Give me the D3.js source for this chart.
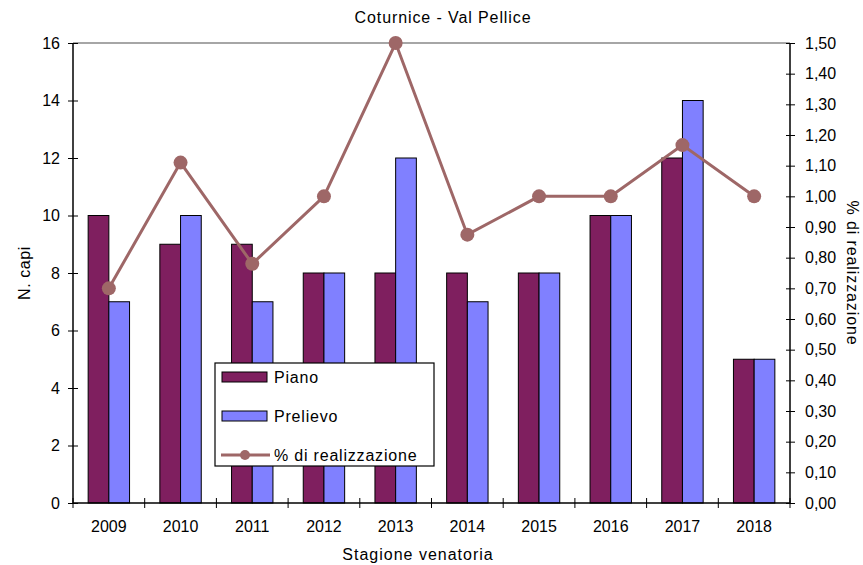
<!DOCTYPE html>
<html>
<head>
<meta charset="utf-8">
<script src="https://cdn.jsdelivr.net/npm/d3@7"></script>
<style>
  body { margin: 0; background: #fff; }
  svg { font-family: "Liberation Sans", Arial, sans-serif; }
</style>
</head>
<body>
<svg id="chart" width="863" height="565"></svg>
<script>
// data
var years = ['2009', '2010', '2011', '2012', '2013', '2014', '2015', '2016', '2017', '2018']
var piano = [10, 9, 9, 8, 8, 8, 8, 10, 12, 5]
var prelievo = [7, 10, 7, 8, 12, 7, 8, 10, 14, 5]
var realizzazione = [0.70, 1.11, 0.78, 1.00, 1.50, 0.875, 1.00, 1.00, 1.167, 1.00]
var leftTicks = [0, 2, 4, 6, 8, 10, 12, 14, 16]
var rightTicks = [0, 0.1, 0.2, 0.3, 0.4, 0.5, 0.6, 0.7, 0.8, 0.9, 1.0, 1.1, 1.2, 1.3, 1.4, 1.5]

var colPiano = '#7f1f5f'
var colPrelievo = '#8080ff'
var colLine = '#9e6767'

// plot area (avoid window.top clash)
var pLeft = 73, pRight = 790, pTop = 43, pBottom = 503

var svg = d3.select('#chart')

var x = d3.scaleBand().domain(years).range([pLeft, pRight])
var xi = d3.scaleBand().domain(['piano', 'prelievo']).range([0, 41.4])
var y = d3.scaleLinear().domain([0, 16]).range([pBottom, pTop])
var y2 = d3.scaleLinear().domain([0, 1.5]).range([pBottom, pTop])

// top border of plot area
svg.append('line')
  .attr('x1', pLeft).attr('x2', pRight)
  .attr('y1', pTop).attr('y2', pTop)
  .attr('stroke', '#888').attr('stroke-width', 1.5)

// bars
var groups = svg.selectAll('g.year')
  .data(years)
  .enter().append('g')
  .attr('class', 'year')
  .attr('transform', d => 'translate(' + (x(d) + x.bandwidth() / 2 - 20.7) + ',0)')

groups.append('rect')
  .attr('x', xi('piano'))
  .attr('width', xi.bandwidth())
  .attr('y', (d, i) => y(piano[i]))
  .attr('height', (d, i) => pBottom - y(piano[i]))
  .attr('fill', colPiano)
  .attr('stroke', '#000').attr('stroke-width', 1)

groups.append('rect')
  .attr('x', xi('prelievo'))
  .attr('width', xi.bandwidth())
  .attr('y', (d, i) => y(prelievo[i]))
  .attr('height', (d, i) => pBottom - y(prelievo[i]))
  .attr('fill', colPrelievo)
  .attr('stroke', '#000').attr('stroke-width', 1)

// line
var line = d3.line()
  .x((d, i) => x(years[i]) + x.bandwidth() / 2)
  .y(d => y2(d))

svg.append('path')
  .datum(realizzazione)
  .attr('d', line)
  .attr('fill', 'none')
  .attr('stroke', colLine)
  .attr('stroke-width', 3)

svg.selectAll('circle.pt')
  .data(realizzazione)
  .enter().append('circle')
  .attr('class', 'pt')
  .attr('cx', (d, i) => x(years[i]) + x.bandwidth() / 2)
  .attr('cy', d => y2(d))
  .attr('r', 7)
  .attr('fill', colLine)

// axes
var fmt2 = d => d.toFixed(2).replace('.', ',')

var gl = svg.append('g')
  .attr('transform', 'translate(' + pLeft + ',0)')
  .call(d3.axisLeft(y).tickValues(leftTicks).tickSize(5).tickPadding(8))
gl.selectAll('.tick line').attr('x2', 5).attr('x1', -5)

var gr = svg.append('g')
  .attr('transform', 'translate(' + pRight + ',0)')
  .call(d3.axisRight(y2).tickValues(rightTicks).tickFormat(fmt2).tickSize(5).tickPadding(10))
gr.selectAll('.tick line').attr('x1', -4).attr('x2', 5)

var xTicks = years.map(d => x(d)).concat([pRight])
var gb = svg.append('g')
  .attr('transform', 'translate(0,' + pBottom + ')')
gb.append('line')
  .attr('x1', pLeft).attr('x2', pRight)
  .attr('stroke', '#000').attr('stroke-width', 1.5)
gb.selectAll('line.tk')
  .data(xTicks)
  .enter().append('line')
  .attr('class', 'tk')
  .attr('x1', d => d).attr('x2', d => d)
  .attr('y1', -5).attr('y2', 5)
  .attr('stroke', '#000')
gb.selectAll('text')
  .data(years)
  .enter().append('text')
  .attr('x', d => x(d) + x.bandwidth() / 2)
  .attr('y', 29)
  .attr('text-anchor', 'middle')
  .attr('font-size', 16)
  .text(d => d)

;[gl, gr].forEach(g => {
  g.select('.domain').attr('stroke', '#000').attr('stroke-width', 1.5)
  g.selectAll('.tick text').attr('font-size', 16).attr('fill', '#000')
  g.selectAll('.tick line').attr('stroke', '#000')
})
gl.select('.domain').attr('d', 'M0,' + pTop + 'V' + pBottom)
gr.select('.domain').attr('d', 'M0,' + pTop + 'V' + pBottom)

// titles
svg.append('text')
  .attr('x', 443).attr('y', 23)
  .attr('text-anchor', 'middle')
  .attr('font-size', 16)
  .attr('letter-spacing', 0.9)
  .text('Coturnice - Val Pellice')

svg.append('text')
  .attr('transform', 'translate(30,' + (pTop + pBottom) / 2 + ') rotate(-90)')
  .attr('text-anchor', 'middle')
  .attr('font-size', 16)
  .attr('letter-spacing', 0.6)
  .text('N. capi')

svg.append('text')
  .attr('transform', 'translate(847,' + (pTop + pBottom) / 2 + ') rotate(90)')
  .attr('text-anchor', 'middle')
  .attr('font-size', 16)
  .attr('letter-spacing', 0.9)
  .text('% di realizzazione')

svg.append('text')
  .attr('x', 418).attr('y', 560)
  .attr('text-anchor', 'middle')
  .attr('font-size', 16)
  .attr('letter-spacing', 1)
  .text('Stagione venatoria')

// legend
var legend = svg.append('g').attr('transform', 'translate(215,363)')
legend.append('rect')
  .attr('width', 219).attr('height', 103)
  .attr('fill', '#fff').attr('stroke', '#000').attr('stroke-width', 1.2)

var legItems = [
  { name: 'Piano', type: 'bar', color: colPiano },
  { name: 'Prelievo', type: 'bar', color: colPrelievo },
  { name: '% di realizzazione', type: 'line', color: colLine }
]
legItems.forEach((d, i) => {
  var cy = 14 + i * 39
  if (d.type === 'bar') {
    legend.append('rect')
      .attr('x', 7).attr('y', cy - 5)
      .attr('width', 45).attr('height', 10)
      .attr('fill', d.color).attr('stroke', '#000')
  } else {
    legend.append('line')
      .attr('x1', 6).attr('x2', 55).attr('y1', cy).attr('y2', cy)
      .attr('stroke', d.color).attr('stroke-width', 3)
    legend.append('circle')
      .attr('cx', 30).attr('cy', cy).attr('r', 5)
      .attr('fill', d.color)
  }
  legend.append('text')
    .attr('x', 59).attr('y', cy + 5.5)
    .attr('font-size', 16)
    .attr('letter-spacing', 0.8)
    .text(d.name)
})
</script>
</body>
</html>
